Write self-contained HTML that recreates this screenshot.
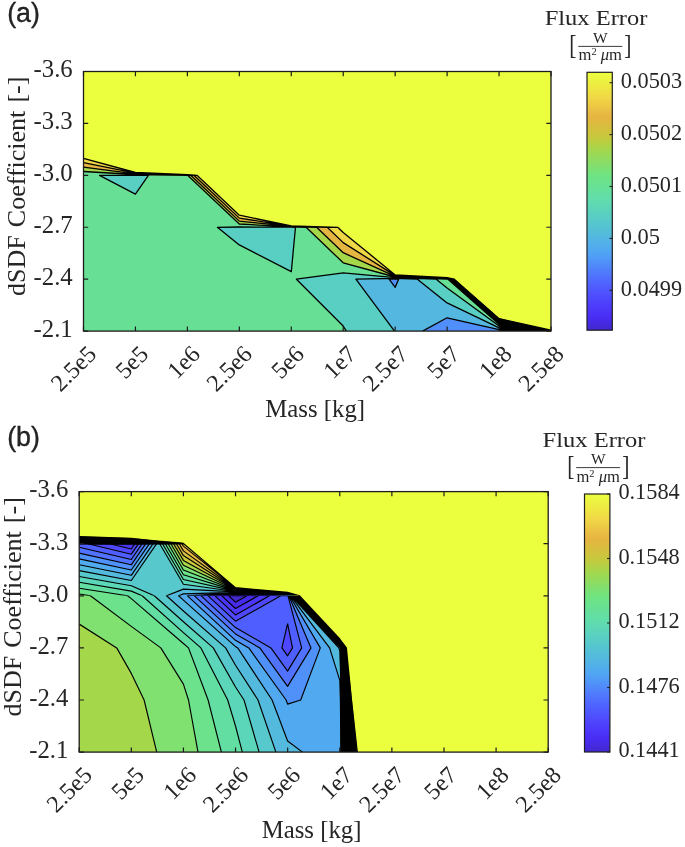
<!DOCTYPE html>
<html><head><meta charset="utf-8"><title>Flux Error contour plots</title>
<style>
html,body{margin:0;padding:0;background:#fff;}
svg{display:block;}
svg text{font-family:"Liberation Serif", serif;fill:#262626;}
</style></head>
<body>
<svg width="685" height="847" viewBox="0 0 685 847">
<defs><linearGradient id="pgrad" x1="0" y1="1" x2="0" y2="0"><stop offset="0.0000" stop-color="#4228cd"/><stop offset="0.0159" stop-color="#4429d9"/><stop offset="0.0317" stop-color="#462be5"/><stop offset="0.0476" stop-color="#482cf1"/><stop offset="0.0635" stop-color="#4a31f6"/><stop offset="0.0794" stop-color="#4c37f9"/><stop offset="0.0952" stop-color="#4d3cfc"/><stop offset="0.1111" stop-color="#4e43fd"/><stop offset="0.1270" stop-color="#4f4afe"/><stop offset="0.1429" stop-color="#4f52fe"/><stop offset="0.1587" stop-color="#4f59fe"/><stop offset="0.1746" stop-color="#4f60fe"/><stop offset="0.1905" stop-color="#5068ff"/><stop offset="0.2063" stop-color="#5070fe"/><stop offset="0.2222" stop-color="#5079fd"/><stop offset="0.2381" stop-color="#5082fb"/><stop offset="0.2540" stop-color="#508bfa"/><stop offset="0.2698" stop-color="#5094f8"/><stop offset="0.2857" stop-color="#509df6"/><stop offset="0.3016" stop-color="#50a5f4"/><stop offset="0.3175" stop-color="#51aaef"/><stop offset="0.3333" stop-color="#52afe9"/><stop offset="0.3492" stop-color="#52b4e4"/><stop offset="0.3651" stop-color="#53b9de"/><stop offset="0.3810" stop-color="#54bdd9"/><stop offset="0.3968" stop-color="#55c2d3"/><stop offset="0.4127" stop-color="#56c6ce"/><stop offset="0.4286" stop-color="#58cac8"/><stop offset="0.4444" stop-color="#59cec2"/><stop offset="0.4603" stop-color="#5bd2bd"/><stop offset="0.4762" stop-color="#5dd6b7"/><stop offset="0.4921" stop-color="#5edab2"/><stop offset="0.5079" stop-color="#60ddab"/><stop offset="0.5238" stop-color="#63dea4"/><stop offset="0.5397" stop-color="#65df9d"/><stop offset="0.5556" stop-color="#67e096"/><stop offset="0.5714" stop-color="#6ae28f"/><stop offset="0.5873" stop-color="#6ce388"/><stop offset="0.6032" stop-color="#70e480"/><stop offset="0.6190" stop-color="#78e278"/><stop offset="0.6349" stop-color="#81df6f"/><stop offset="0.6508" stop-color="#8add66"/><stop offset="0.6667" stop-color="#93db5d"/><stop offset="0.6825" stop-color="#9bd955"/><stop offset="0.6984" stop-color="#a4d74c"/><stop offset="0.7143" stop-color="#afd347"/><stop offset="0.7302" stop-color="#bace42"/><stop offset="0.7460" stop-color="#c5c93d"/><stop offset="0.7619" stop-color="#cdc53d"/><stop offset="0.7778" stop-color="#d3c13e"/><stop offset="0.7937" stop-color="#d9bd3f"/><stop offset="0.8095" stop-color="#e0b940"/><stop offset="0.8254" stop-color="#e6b542"/><stop offset="0.8413" stop-color="#e9ba43"/><stop offset="0.8571" stop-color="#ebc244"/><stop offset="0.8730" stop-color="#edca44"/><stop offset="0.8889" stop-color="#efd145"/><stop offset="0.9048" stop-color="#f0d946"/><stop offset="0.9206" stop-color="#efdf44"/><stop offset="0.9365" stop-color="#efe643"/><stop offset="0.9524" stop-color="#eeec42"/><stop offset="0.9683" stop-color="#edf241"/><stop offset="0.9841" stop-color="#edf93f"/><stop offset="1.0000" stop-color="#ecff3e"/></linearGradient><clipPath id="clipa"><rect x="83.5" y="71.5" width="467.5" height="259.6"/></clipPath><clipPath id="clipb"><rect x="79.2" y="491.6" width="469.0" height="260.5"/></clipPath><clipPath id="clipbt"><rect x="79.2" y="491.6" width="469.0" height="105.00"/></clipPath><clipPath id="clipbb"><rect x="79.2" y="595.80" width="469.0" height="156.30"/></clipPath></defs>
<rect width="685" height="847" fill="#fff"/>
<g>
<rect x="83.50" y="71.50" width="467.50" height="259.60" fill="#ecff3e"/>
<g clip-path="url(#clipa)">
<path d="M389.1 279.2L395.2 279.1L398.6 279.2L395.2 287.3L389.1 279.2ZM422.6 331.1L447.1 317.8L499.1 329.7L551.0 331.0L551.0 331.1L499.1 331.1L447.1 331.1L422.6 331.1Z" fill="#508ef9" fill-rule="evenodd" stroke="#508ef9" stroke-width="0.4"/><path d="M355.9 279.2L395.2 278.4L417.4 279.2L447.1 302.9L499.1 327.9L551.0 330.9L551.0 331.0L499.1 329.7L447.1 317.8L422.6 331.1L395.2 331.1L394.5 331.1L355.9 279.2ZM395.2 279.1L389.1 279.2L395.2 287.3L398.6 279.2L395.2 279.1Z" fill="#53b7e0" fill-rule="evenodd" stroke="#53b7e0" stroke-width="0.4"/><path d="M99.5 175.3L135.4 175.1L148.4 175.3L135.4 194.2L99.5 175.3ZM217.4 227.3L239.3 227.0L291.3 227.1L295.5 227.3L291.3 271.7L239.3 244.9L217.4 227.3ZM296.4 279.2L343.2 272.9L395.2 277.7L436.2 279.2L447.1 287.9L499.1 326.1L551.0 330.7L551.0 330.9L499.1 327.9L447.1 302.9L417.4 279.2L395.2 278.4L355.9 279.2L394.5 331.1L346.4 331.1L343.2 326.0L296.4 279.2Z" fill="#59cec3" fill-rule="evenodd" stroke="#59cec3" stroke-width="0.4"/><path d="M83.5 175.3L83.5 171.5L135.4 174.5L187.4 175.3L187.6 175.3L239.3 224.0L291.3 226.8L306.1 227.3L343.2 262.8L395.2 277.0L447.1 279.0L448.0 279.2L499.1 324.2L551.0 330.6L551.0 330.7L499.1 326.1L447.1 287.9L436.2 279.2L395.2 277.7L343.2 272.9L296.4 279.2L343.2 326.0L346.4 331.1L343.2 331.1L291.3 331.1L239.3 331.1L187.4 331.1L135.4 331.1L83.5 331.1L83.5 279.2L83.5 227.3L83.5 175.3ZM135.4 175.1L99.5 175.3L135.4 194.2L148.4 175.3L135.4 175.1ZM239.3 227.0L217.4 227.3L239.3 244.9L291.3 271.7L295.5 227.3L291.3 227.1L239.3 227.0Z" fill="#67e096" fill-rule="evenodd" stroke="#67e096" stroke-width="0.4"/><path d="M83.5 171.5L83.5 167.1L135.4 173.8L187.4 175.1L190.7 175.3L239.3 221.1L291.3 226.5L316.6 227.3L343.2 252.7L395.2 276.3L447.1 278.6L450.1 279.2L499.1 322.4L551.0 330.4L551.0 330.6L499.1 324.2L448.0 279.2L447.1 279.0L395.2 277.0L343.2 262.8L306.1 227.3L291.3 226.8L239.3 224.0L187.6 175.3L187.4 175.3L135.4 174.5L83.5 171.5Z" fill="#a5d74b" fill-rule="evenodd" stroke="#a5d74b" stroke-width="0.4"/><path d="M83.5 167.1L83.5 162.7L135.4 173.2L187.4 174.9L193.9 175.3L239.3 218.1L291.3 226.3L327.2 227.3L343.2 242.6L395.2 275.6L447.1 278.1L452.1 279.2L499.1 320.6L551.0 330.3L551.0 330.4L499.1 322.4L450.1 279.2L447.1 278.6L395.2 276.3L343.2 252.7L316.6 227.3L291.3 226.5L239.3 221.1L190.7 175.3L187.4 175.1L135.4 173.8L83.5 167.1Z" fill="#e4b641" fill-rule="evenodd" stroke="#e4b641" stroke-width="0.4"/><path d="M83.5 162.7L83.5 158.3L135.4 172.5L187.4 174.7L197.0 175.3L239.3 215.2L291.3 226.0L337.7 227.3L343.2 232.5L395.2 274.9L447.1 277.7L454.2 279.2L499.1 318.7L551.0 330.2L551.0 330.3L499.1 320.6L452.1 279.2L447.1 278.1L395.2 275.6L343.2 242.6L327.2 227.3L291.3 226.3L239.3 218.1L193.9 175.3L187.4 174.9L135.4 173.2L83.5 162.7Z" fill="#f0d746" fill-rule="evenodd" stroke="#f0d746" stroke-width="0.4"/><path d="M395.2 279.1L389.1 279.2L395.2 287.3L398.6 279.2L395.2 279.1M551.0 331.0L499.1 329.7L447.1 317.8L422.6 331.1M551.0 330.9L499.1 327.9L447.1 302.9L417.4 279.2L395.2 278.4L355.9 279.2L394.5 331.1M135.4 175.1L99.5 175.3L135.4 194.2L148.4 175.3L135.4 175.1M239.3 227.0L217.4 227.3L239.3 244.9L291.3 271.7L295.5 227.3L291.3 227.1L239.3 227.0M551.0 330.7L499.1 326.1L447.1 287.9L436.2 279.2L395.2 277.7L343.2 272.9L296.4 279.2L343.2 326.0L346.4 331.1M551.0 330.6L499.1 324.2L448.0 279.2L447.1 279.0L395.2 277.0L343.2 262.8L306.1 227.3L291.3 226.8L239.3 224.0L187.6 175.3L187.4 175.3L135.4 174.5L83.5 171.5M551.0 330.4L499.1 322.4L450.1 279.2L447.1 278.6L395.2 276.3L343.2 252.7L316.6 227.3L291.3 226.5L239.3 221.1L190.7 175.3L187.4 175.1L135.4 173.8L83.5 167.1M551.0 330.3L499.1 320.6L452.1 279.2L447.1 278.1L395.2 275.6L343.2 242.6L327.2 227.3L291.3 226.3L239.3 218.1L193.9 175.3L187.4 174.9L135.4 173.2L83.5 162.7M551.0 330.2L499.1 318.7L454.2 279.2L447.1 277.7L395.2 274.9L343.2 232.5L337.7 227.3L291.3 226.0L239.3 215.2L197.0 175.3L187.4 174.7L135.4 172.5L83.5 158.3" fill="none" stroke="#000" stroke-width="1.3" stroke-linejoin="round"/>
<path d="M449.5 279.1L454.2 279.1L499.1 318.7L551.0 331.1L499.1 331.1L499.1 324.2Z" fill="#000" stroke="#000" stroke-width="0.6"/>
</g>
<rect x="83.50" y="71.50" width="467.50" height="259.60" fill="none" stroke="#1c1c1c" stroke-width="1.3"/>
<path d="M83.50 331.10v-4.7M83.50 71.50v4.7" stroke="#1c1c1c" stroke-width="1.2" fill="none"/>
<path d="M135.44 331.10v-4.7M135.44 71.50v4.7" stroke="#1c1c1c" stroke-width="1.2" fill="none"/>
<path d="M187.39 331.10v-4.7M187.39 71.50v4.7" stroke="#1c1c1c" stroke-width="1.2" fill="none"/>
<path d="M239.33 331.10v-4.7M239.33 71.50v4.7" stroke="#1c1c1c" stroke-width="1.2" fill="none"/>
<path d="M291.28 331.10v-4.7M291.28 71.50v4.7" stroke="#1c1c1c" stroke-width="1.2" fill="none"/>
<path d="M343.22 331.10v-4.7M343.22 71.50v4.7" stroke="#1c1c1c" stroke-width="1.2" fill="none"/>
<path d="M395.17 331.10v-4.7M395.17 71.50v4.7" stroke="#1c1c1c" stroke-width="1.2" fill="none"/>
<path d="M447.11 331.10v-4.7M447.11 71.50v4.7" stroke="#1c1c1c" stroke-width="1.2" fill="none"/>
<path d="M499.06 331.10v-4.7M499.06 71.50v4.7" stroke="#1c1c1c" stroke-width="1.2" fill="none"/>
<path d="M551.00 331.10v-4.7M551.00 71.50v4.7" stroke="#1c1c1c" stroke-width="1.2" fill="none"/>
<path d="M83.50 71.50h4.7M551.00 71.50h-4.7" stroke="#1c1c1c" stroke-width="1.2" fill="none"/>
<path d="M83.50 123.42h4.7M551.00 123.42h-4.7" stroke="#1c1c1c" stroke-width="1.2" fill="none"/>
<path d="M83.50 175.34h4.7M551.00 175.34h-4.7" stroke="#1c1c1c" stroke-width="1.2" fill="none"/>
<path d="M83.50 227.26h4.7M551.00 227.26h-4.7" stroke="#1c1c1c" stroke-width="1.2" fill="none"/>
<path d="M83.50 279.18h4.7M551.00 279.18h-4.7" stroke="#1c1c1c" stroke-width="1.2" fill="none"/>
<path d="M83.50 331.10h4.7M551.00 331.10h-4.7" stroke="#1c1c1c" stroke-width="1.2" fill="none"/>
<text x="72.70" y="77.30" text-anchor="end" font-size="25" textLength="39.2" lengthAdjust="spacingAndGlyphs">-3.6</text>
<text x="72.70" y="129.22" text-anchor="end" font-size="25" textLength="39.2" lengthAdjust="spacingAndGlyphs">-3.3</text>
<text x="72.70" y="181.14" text-anchor="end" font-size="25" textLength="39.2" lengthAdjust="spacingAndGlyphs">-3.0</text>
<text x="72.70" y="233.06" text-anchor="end" font-size="25" textLength="39.2" lengthAdjust="spacingAndGlyphs">-2.7</text>
<text x="72.70" y="284.98" text-anchor="end" font-size="25" textLength="39.2" lengthAdjust="spacingAndGlyphs">-2.4</text>
<text x="72.70" y="336.90" text-anchor="end" font-size="25" textLength="39.2" lengthAdjust="spacingAndGlyphs">-2.1</text>
<text transform="translate(97.70 355.60) rotate(-45)" text-anchor="end" font-size="24">2.5e5</text>
<text transform="translate(149.64 355.60) rotate(-45)" text-anchor="end" font-size="24">5e5</text>
<text transform="translate(201.59 355.60) rotate(-45)" text-anchor="end" font-size="24">1e6</text>
<text transform="translate(253.53 355.60) rotate(-45)" text-anchor="end" font-size="24">2.5e6</text>
<text transform="translate(305.48 355.60) rotate(-45)" text-anchor="end" font-size="24">5e6</text>
<text transform="translate(357.42 355.60) rotate(-45)" text-anchor="end" font-size="24">1e7</text>
<text transform="translate(409.37 355.60) rotate(-45)" text-anchor="end" font-size="24">2.5e7</text>
<text transform="translate(461.31 355.60) rotate(-45)" text-anchor="end" font-size="24">5e7</text>
<text transform="translate(513.26 355.60) rotate(-45)" text-anchor="end" font-size="24">1e8</text>
<text transform="translate(565.20 355.60) rotate(-45)" text-anchor="end" font-size="24">2.5e8</text>
<text x="315.15" y="417.10" text-anchor="middle" font-size="24.5" textLength="99.8" lengthAdjust="spacingAndGlyphs">Mass [kg]</text>
<text transform="translate(25.30 186.30) rotate(-90)" text-anchor="middle" font-size="26" word-spacing="1.6">dSDF Coefficient [-]</text>
<text x="7.2" y="21.8" style='font-family:"Liberation Sans", sans-serif' font-size="26.8" fill="#000" stroke="#000" stroke-width="0.3">(a)</text>
<rect x="587.00" y="72.30" width="25.30" height="257.90" fill="url(#pgrad)" stroke="#202020" stroke-width="1.2"/>
<path d="M612.30 82.70h-2.8" stroke="#202020" stroke-width="1.1"/>
<text x="620.80" y="88.00" font-size="24" textLength="61.3" lengthAdjust="spacingAndGlyphs">0.0503</text>
<path d="M612.30 134.60h-2.8" stroke="#202020" stroke-width="1.1"/>
<text x="620.80" y="139.90" font-size="24" textLength="61.3" lengthAdjust="spacingAndGlyphs">0.0502</text>
<path d="M612.30 186.50h-2.8" stroke="#202020" stroke-width="1.1"/>
<text x="620.80" y="191.80" font-size="24" textLength="61.3" lengthAdjust="spacingAndGlyphs">0.0501</text>
<path d="M612.30 238.40h-2.8" stroke="#202020" stroke-width="1.1"/>
<text x="620.80" y="243.70" font-size="24" textLength="39.2" lengthAdjust="spacingAndGlyphs">0.05</text>
<path d="M612.30 290.30h-2.8" stroke="#202020" stroke-width="1.1"/>
<text x="620.80" y="295.60" font-size="24" textLength="61.3" lengthAdjust="spacingAndGlyphs">0.0499</text>
<text x="596.05" y="25.40" text-anchor="middle" font-size="22" textLength="102.8" lengthAdjust="spacingAndGlyphs">Flux Error</text>
<text transform="translate(572.85 53.60) scale(0.8 1)" text-anchor="middle" font-size="27">[</text>
<text transform="translate(627.95 53.60) scale(0.8 1)" text-anchor="middle" font-size="27">]</text>
<text x="600.25" y="42.70" text-anchor="middle" font-size="15.5">W</text>
<path d="M578.25 46.40h44" stroke="#262626" stroke-width="0.9"/>
<text x="600.25" y="60.40" text-anchor="middle" font-size="16" textLength="43.5" lengthAdjust="spacingAndGlyphs">m<tspan font-size="10" dy="-5">2</tspan><tspan dy="5" font-size="16"> </tspan><tspan font-style="italic">μ</tspan>m</text>
</g>
<g>
<rect x="79.20" y="491.60" width="469.00" height="260.50" fill="#ecff3e"/>
<g clip-path="url(#clipb)">
<g clip-path="url(#clipbt)"><path d="M228.7 595.8L235.5 595.4L246.9 595.8L235.5 602.2L228.7 595.8Z" fill="#4228cd" fill-rule="evenodd" stroke="#4228cd" stroke-width="0.4"/><path d="M131.3 543.7L131.3 543.7L131.3 543.7L131.3 543.7L131.3 543.7ZM221.8 595.8L235.5 594.9L258.2 595.8L235.5 608.5L221.8 595.8ZM235.5 595.4L228.7 595.8L235.5 602.2L246.9 595.8L235.5 595.4Z" fill="#472beb" fill-rule="evenodd" stroke="#472beb" stroke-width="0.4"/><path d="M109.6 543.7L131.3 543.4L134.9 543.7L131.3 549.0L109.6 543.7ZM131.3 543.7L131.3 543.7L131.3 543.7L131.3 543.7L131.3 543.7ZM215.0 595.8L235.5 594.5L269.5 595.8L235.5 614.9L215.0 595.8ZM235.5 594.9L221.8 595.8L235.5 608.5L258.2 595.8L235.5 594.9Z" fill="#4c37f9" fill-rule="evenodd" stroke="#4c37f9" stroke-width="0.4"/><path d="M87.9 543.7L131.3 543.1L138.6 543.7L131.3 554.2L87.9 543.7ZM131.3 543.4L109.6 543.7L131.3 549.0L134.9 543.7L131.3 543.4ZM208.1 595.8L235.5 594.1L280.8 595.8L235.5 621.2L208.1 595.8ZM235.5 594.5L215.0 595.8L235.5 614.9L269.5 595.8L235.5 594.5ZM281.9 647.9L287.6 623.7L292.5 647.9L287.6 655.8L281.9 647.9Z" fill="#4e47fd" fill-rule="evenodd" stroke="#4e47fd" stroke-width="0.4"/><path d="M79.2 543.7L79.2 543.4L131.3 542.7L142.2 543.7L131.3 559.5L79.2 547.2L79.2 543.7ZM131.3 543.1L87.9 543.7L131.3 554.2L138.6 543.7L131.3 543.1ZM201.2 595.8L235.5 593.6L287.6 595.7L288.0 595.8L301.7 647.9L287.6 671.1L270.9 647.9L235.5 627.6L201.2 595.8ZM235.5 594.1L208.1 595.8L235.5 621.2L280.8 595.8L235.5 594.1ZM287.6 623.7L281.9 647.9L287.6 655.8L292.5 647.9L287.6 623.7Z" fill="#4f5efe" fill-rule="evenodd" stroke="#4f5efe" stroke-width="0.4"/><path d="M79.2 543.4L79.2 542.9L131.3 542.4L145.8 543.7L131.3 564.8L79.2 553.1L79.2 547.2L131.3 559.5L142.2 543.7L131.3 542.7L79.2 543.4ZM194.4 595.8L235.5 593.2L287.6 595.5L288.8 595.8L311.0 647.9L287.6 686.4L259.8 647.9L235.5 633.9L194.4 595.8ZM235.5 593.6L201.2 595.8L235.5 627.6L270.9 647.9L287.6 671.1L301.7 647.9L288.0 595.8L287.6 595.7L235.5 593.6Z" fill="#5072fe" fill-rule="evenodd" stroke="#5072fe" stroke-width="0.4"/><path d="M79.2 542.9L79.2 542.4L131.3 542.1L149.5 543.7L131.3 570.0L79.2 558.9L79.2 553.1L131.3 564.8L145.8 543.7L131.3 542.4L79.2 542.9ZM187.5 595.8L235.5 592.8L287.6 595.2L289.6 595.8L320.3 647.9L300.7 700.0L287.6 704.1L286.1 700.0L248.8 647.9L235.5 640.3L187.5 595.8ZM235.5 593.2L194.4 595.8L235.5 633.9L259.8 647.9L287.6 686.4L311.0 647.9L288.8 595.8L287.6 595.5L235.5 593.2Z" fill="#5090f9" fill-rule="evenodd" stroke="#5090f9" stroke-width="0.4"/><path d="M79.2 542.4L79.2 542.0L131.3 541.8L153.1 543.7L131.3 575.3L79.2 564.8L79.2 558.9L131.3 570.0L149.5 543.7L131.3 542.1L79.2 542.4ZM178.6 595.8L183.4 593.9L235.5 592.4L287.6 595.0L290.5 595.8L329.6 647.9L339.8 680.3L340.4 700.0L340.9 752.1L339.8 752.1L302.5 752.1L287.6 741.0L272.1 700.0L237.7 647.9L235.5 646.6L183.4 600.1L178.6 595.8ZM235.5 592.8L187.5 595.8L235.5 640.3L248.8 647.9L286.1 700.0L287.6 704.1L300.7 700.0L320.3 647.9L289.6 595.8L287.6 595.2L235.5 592.8Z" fill="#51aaef" fill-rule="evenodd" stroke="#51aaef" stroke-width="0.4"/><path d="M79.2 542.0L79.2 541.5L131.3 541.5L156.7 543.7L131.3 580.5L79.2 570.6L79.2 564.8L131.3 575.3L153.1 543.7L131.3 541.8L79.2 542.0ZM166.5 595.8L183.4 589.1L235.5 591.9L287.6 594.8L291.3 595.8L338.8 647.9L339.8 650.8L341.4 700.0L342.4 752.1L340.9 752.1L340.4 700.0L339.8 680.3L329.6 647.9L290.5 595.8L287.6 595.0L235.5 592.4L183.4 593.9L178.6 595.8L183.4 600.1L235.5 646.6L237.7 647.9L272.1 700.0L287.6 741.0L302.5 752.1L287.6 752.1L275.9 752.1L258.0 700.0L235.5 665.3L225.6 647.9L183.4 611.0L166.5 595.8Z" fill="#53b9dd" fill-rule="evenodd" stroke="#53b9dd" stroke-width="0.4"/><path d="M79.2 541.5L79.2 541.0L131.3 541.2L157.4 543.5L159.7 543.7L183.4 584.3L235.5 591.5L287.6 594.5L292.1 595.8L339.8 647.1L340.4 647.9L342.4 700.0L343.9 752.1L342.4 752.1L341.4 700.0L339.8 650.8L338.8 647.9L291.3 595.8L287.6 594.8L235.5 591.9L183.4 589.1L166.5 595.8L183.4 611.0L225.6 647.9L235.5 665.3L258.0 700.0L275.9 752.1L259.1 752.1L244.0 700.0L235.5 687.0L213.3 647.9L183.4 621.8L157.4 599.7L154.3 595.8L131.3 585.8L79.2 576.5L79.2 570.6L131.3 580.5L156.7 543.7L131.3 541.5L79.2 541.5Z" fill="#57c8cb" fill-rule="evenodd" stroke="#57c8cb" stroke-width="0.4"/><path d="M79.2 541.0L79.2 540.5L131.3 540.8L157.4 543.3L162.5 543.7L183.4 579.5L235.5 591.1L287.6 594.3L293.0 595.8L339.8 646.2L341.0 647.9L343.5 700.0L345.3 752.1L343.9 752.1L342.4 700.0L340.4 647.9L339.8 647.1L292.1 595.8L287.6 594.5L235.5 591.5L183.4 584.3L159.7 543.7L157.4 543.5L131.3 541.2L79.2 541.0ZM79.2 582.3L79.2 576.5L131.3 585.8L154.3 595.8L157.4 599.7L183.4 621.8L213.3 647.9L235.5 687.0L244.0 700.0L259.1 752.1L242.3 752.1L235.5 726.0L227.7 700.0L200.9 647.9L183.4 632.6L157.4 615.3L142.2 595.8L131.3 591.1L79.2 582.3Z" fill="#5cd6b8" fill-rule="evenodd" stroke="#5cd6b8" stroke-width="0.4"/><path d="M79.2 540.5L79.2 540.0L131.3 540.5L157.4 543.0L165.3 543.7L183.4 574.8L235.5 590.6L287.6 594.1L293.8 595.8L339.8 645.3L341.7 647.9L344.5 700.0L346.8 752.1L345.3 752.1L343.5 700.0L341.0 647.9L339.8 646.2L293.0 595.8L287.6 594.3L235.5 591.1L183.4 579.5L162.5 543.7L157.4 543.3L131.3 540.8L79.2 540.5ZM79.2 588.2L79.2 582.3L131.3 591.1L142.2 595.8L157.4 615.3L183.4 632.6L200.9 647.9L227.7 700.0L235.5 726.0L242.3 752.1L235.5 752.1L221.4 752.1L208.1 700.0L188.5 647.9L183.4 643.5L157.4 630.9L131.3 598.6L127.6 595.8L79.2 588.2Z" fill="#63dea3" fill-rule="evenodd" stroke="#63dea3" stroke-width="0.4"/><path d="M79.2 540.0L79.2 539.5L131.3 540.2L157.4 542.8L168.1 543.7L183.4 570.0L235.5 590.2L287.6 593.8L294.6 595.8L339.8 644.4L342.4 647.9L345.5 700.0L348.3 752.1L346.8 752.1L344.5 700.0L341.7 647.9L339.8 645.3L293.8 595.8L287.6 594.1L235.5 590.6L183.4 574.8L165.3 543.7L157.4 543.0L131.3 540.5L79.2 540.0ZM79.2 594.0L79.2 588.2L127.6 595.8L131.3 598.6L157.4 630.9L183.4 643.5L188.5 647.9L208.1 700.0L221.4 752.1L198.0 752.1L188.5 700.0L183.4 684.1L160.8 647.9L157.4 646.5L131.3 626.4L90.4 595.8L79.2 594.0Z" fill="#6be28b" fill-rule="evenodd" stroke="#6be28b" stroke-width="0.4"/><path d="M79.2 539.5L79.2 539.0L131.3 539.9L157.4 542.6L170.9 543.7L183.4 565.2L235.5 589.8L287.6 593.6L295.5 595.8L339.8 643.5L343.0 647.9L346.5 700.0L349.8 752.1L348.3 752.1L345.5 700.0L342.4 647.9L339.8 644.4L294.6 595.8L287.6 593.8L235.5 590.2L183.4 570.0L168.1 543.7L157.4 542.8L131.3 540.2L79.2 539.5ZM79.2 595.8L79.2 594.0L90.4 595.8L131.3 626.4L157.4 646.5L160.8 647.9L183.4 684.1L188.5 700.0L198.0 752.1L183.4 752.1L157.4 752.1L156.7 752.1L144.1 700.0L131.3 673.4L116.7 647.9L79.2 624.1L79.2 595.8Z" fill="#80e070" fill-rule="evenodd" stroke="#80e070" stroke-width="0.4"/><path d="M79.2 539.0L79.2 538.6L131.3 539.6L157.4 542.3L173.6 543.7L183.4 560.4L235.5 589.3L287.6 593.4L296.3 595.8L339.8 642.6L343.7 647.9L347.5 700.0L351.3 752.1L349.8 752.1L346.5 700.0L343.0 647.9L339.8 643.5L295.5 595.8L287.6 593.6L235.5 589.8L183.4 565.2L170.9 543.7L157.4 542.6L131.3 539.9L79.2 539.0ZM79.2 647.9L79.2 624.1L116.7 647.9L131.3 673.4L144.1 700.0L156.7 752.1L131.3 752.1L79.2 752.1L79.2 700.0L79.2 647.9Z" fill="#a5d74b" fill-rule="evenodd" stroke="#a5d74b" stroke-width="0.4"/><path d="M79.2 538.6L79.2 538.1L131.3 539.3L157.4 542.1L176.4 543.7L183.4 555.6L235.5 588.9L287.6 593.1L297.1 595.8L339.8 641.7L344.4 647.9L348.5 700.0L352.8 752.1L351.3 752.1L347.5 700.0L343.7 647.9L339.8 642.6L296.3 595.8L287.6 593.4L235.5 589.3L183.4 560.4L173.6 543.7L157.4 542.3L131.3 539.6L79.2 538.6Z" fill="#c8c83c" fill-rule="evenodd" stroke="#c8c83c" stroke-width="0.4"/><path d="M79.2 538.1L79.2 537.6L131.3 538.9L157.4 541.9L179.2 543.7L183.4 550.9L235.5 588.5L287.6 592.9L298.0 595.8L339.8 640.8L345.0 647.9L349.5 700.0L354.3 752.1L352.8 752.1L348.5 700.0L344.4 647.9L339.8 641.7L297.1 595.8L287.6 593.1L235.5 588.9L183.4 555.6L176.4 543.7L157.4 542.1L131.3 539.3L79.2 538.1Z" fill="#d8be3f" fill-rule="evenodd" stroke="#d8be3f" stroke-width="0.4"/><path d="M79.2 537.6L79.2 537.1L131.3 538.6L157.4 541.6L182.0 543.7L183.4 546.1L235.5 588.0L287.6 592.6L298.8 595.8L339.8 639.9L345.7 647.9L350.5 700.0L355.8 752.1L354.3 752.1L349.5 700.0L345.0 647.9L339.8 640.8L298.0 595.8L287.6 592.9L235.5 588.5L183.4 550.9L179.2 543.7L157.4 541.9L131.3 538.9L79.2 537.6Z" fill="#e9ba43" fill-rule="evenodd" stroke="#e9ba43" stroke-width="0.4"/><path d="M79.2 537.1L79.2 536.6L131.3 538.3L157.4 541.4L183.4 543.6L183.7 543.7L235.5 587.6L287.6 592.4L299.6 595.8L339.8 639.0L346.4 647.9L351.5 700.0L357.3 752.1L355.8 752.1L350.5 700.0L345.7 647.9L339.8 639.9L298.8 595.8L287.6 592.6L235.5 588.0L183.4 546.1L182.0 543.7L157.4 541.6L131.3 538.6L79.2 537.1Z" fill="#efd446" fill-rule="evenodd" stroke="#efd446" stroke-width="0.4"/><path d="M235.5 595.8L235.5 595.8L235.5 595.8L235.5 595.8L235.5 595.8M235.5 595.4L228.7 595.8L235.5 602.2L246.9 595.8L235.5 595.4M131.3 543.7L131.3 543.7L131.3 543.7L131.3 543.7L131.3 543.7M235.5 594.9L221.8 595.8L235.5 608.5L258.2 595.8L235.5 594.9M131.3 543.4L109.6 543.7L131.3 549.0L134.9 543.7L131.3 543.4M235.5 594.5L215.0 595.8L235.5 614.9L269.5 595.8L235.5 594.5M131.3 543.1L87.9 543.7L131.3 554.2L138.6 543.7L131.3 543.1M235.5 594.1L208.1 595.8L235.5 621.2L280.8 595.8L235.5 594.1M287.6 623.7L281.9 647.9L287.6 655.8L292.5 647.9L287.6 623.7M79.2 547.2L131.3 559.5L142.2 543.7L131.3 542.7L79.2 543.4M235.5 593.6L201.2 595.8L235.5 627.6L270.9 647.9L287.6 671.1L301.7 647.9L288.0 595.8L287.6 595.7L235.5 593.6M79.2 553.1L131.3 564.8L145.8 543.7L131.3 542.4L79.2 542.9M235.5 593.2L194.4 595.8L235.5 633.9L259.8 647.9L287.6 686.4L311.0 647.9L288.8 595.8L287.6 595.5L235.5 593.2M79.2 558.9L131.3 570.0L149.5 543.7L131.3 542.1L79.2 542.4M235.5 592.8L187.5 595.8L235.5 640.3L248.8 647.9L286.1 700.0L287.6 704.1L300.7 700.0L320.3 647.9L289.6 595.8L287.6 595.2L235.5 592.8M79.2 564.8L131.3 575.3L153.1 543.7L131.3 541.8L79.2 542.0M340.9 752.1L340.4 700.0L339.8 680.3L329.6 647.9L290.5 595.8L287.6 595.0L235.5 592.4L183.4 593.9L178.6 595.8L183.4 600.1L235.5 646.6L237.7 647.9L272.1 700.0L287.6 741.0L302.5 752.1M79.2 570.6L131.3 580.5L156.7 543.7L131.3 541.5L79.2 541.5M342.4 752.1L341.4 700.0L339.8 650.8L338.8 647.9L291.3 595.8L287.6 594.8L235.5 591.9L183.4 589.1L166.5 595.8L183.4 611.0L225.6 647.9L235.5 665.3L258.0 700.0L275.9 752.1M79.2 576.5L131.3 585.8L154.3 595.8L157.4 599.7L183.4 621.8L213.3 647.9L235.5 687.0L244.0 700.0L259.1 752.1M343.9 752.1L342.4 700.0L340.4 647.9L339.8 647.1L292.1 595.8L287.6 594.5L235.5 591.5L183.4 584.3L159.7 543.7L157.4 543.5L131.3 541.2L79.2 541.0M79.2 582.3L131.3 591.1L142.2 595.8L157.4 615.3L183.4 632.6L200.9 647.9L227.7 700.0L235.5 726.0L242.3 752.1M345.3 752.1L343.5 700.0L341.0 647.9L339.8 646.2L293.0 595.8L287.6 594.3L235.5 591.1L183.4 579.5L162.5 543.7L157.4 543.3L131.3 540.8L79.2 540.5M79.2 588.2L127.6 595.8L131.3 598.6L157.4 630.9L183.4 643.5L188.5 647.9L208.1 700.0L221.4 752.1M346.8 752.1L344.5 700.0L341.7 647.9L339.8 645.3L293.8 595.8L287.6 594.1L235.5 590.6L183.4 574.8L165.3 543.7L157.4 543.0L131.3 540.5L79.2 540.0M79.2 594.0L90.4 595.8L131.3 626.4L157.4 646.5L160.8 647.9L183.4 684.1L188.5 700.0L198.0 752.1M348.3 752.1L345.5 700.0L342.4 647.9L339.8 644.4L294.6 595.8L287.6 593.8L235.5 590.2L183.4 570.0L168.1 543.7L157.4 542.8L131.3 540.2L79.2 539.5M79.2 624.1L116.7 647.9L131.3 673.4L144.1 700.0L156.7 752.1M349.8 752.1L346.5 700.0L343.0 647.9L339.8 643.5L295.5 595.8L287.6 593.6L235.5 589.8L183.4 565.2L170.9 543.7L157.4 542.6L131.3 539.9L79.2 539.0M351.3 752.1L347.5 700.0L343.7 647.9L339.8 642.6L296.3 595.8L287.6 593.4L235.5 589.3L183.4 560.4L173.6 543.7L157.4 542.3L131.3 539.6L79.2 538.6M352.8 752.1L348.5 700.0L344.4 647.9L339.8 641.7L297.1 595.8L287.6 593.1L235.5 588.9L183.4 555.6L176.4 543.7L157.4 542.1L131.3 539.3L79.2 538.1M354.3 752.1L349.5 700.0L345.0 647.9L339.8 640.8L298.0 595.8L287.6 592.9L235.5 588.5L183.4 550.9L179.2 543.7L157.4 541.9L131.3 538.9L79.2 537.6M355.8 752.1L350.5 700.0L345.7 647.9L339.8 639.9L298.8 595.8L287.6 592.6L235.5 588.0L183.4 546.1L182.0 543.7L157.4 541.6L131.3 538.6L79.2 537.1M357.3 752.1L351.5 700.0L346.4 647.9L339.8 639.0L299.6 595.8L287.6 592.4L235.5 587.6L183.7 543.7L183.4 543.6L157.4 541.4L131.3 538.3L79.2 536.6" fill="none" stroke="#000" stroke-width="1.15" stroke-linejoin="round"/></g>
<g clip-path="url(#clipbb)"><path d="M228.7 595.8L235.5 595.4L246.9 595.8L235.5 602.2L228.7 595.8Z" fill="#4228cd" fill-rule="evenodd" stroke="#4228cd" stroke-width="0.4"/><path d="M131.3 543.7L131.3 543.7L131.3 543.7L131.3 543.7L131.3 543.7ZM221.8 595.8L235.5 594.9L258.2 595.8L235.5 608.5L221.8 595.8ZM235.5 595.4L228.7 595.8L235.5 602.2L246.9 595.8L235.5 595.4Z" fill="#472beb" fill-rule="evenodd" stroke="#472beb" stroke-width="0.4"/><path d="M109.6 543.7L131.3 543.4L134.7 543.7L131.3 549.0L109.6 543.7ZM131.3 543.7L131.3 543.7L131.3 543.7L131.3 543.7L131.3 543.7ZM215.0 595.8L235.5 594.5L269.5 595.8L235.5 614.9L215.0 595.8ZM235.5 594.9L221.8 595.8L235.5 608.5L258.2 595.8L235.5 594.9Z" fill="#4c37f9" fill-rule="evenodd" stroke="#4c37f9" stroke-width="0.4"/><path d="M87.9 543.7L131.3 543.1L138.0 543.7L131.3 554.2L87.9 543.7ZM131.3 543.4L109.6 543.7L131.3 549.0L134.7 543.7L131.3 543.4ZM208.1 595.8L235.5 594.1L280.8 595.8L235.5 621.2L208.1 595.8ZM235.5 594.5L215.0 595.8L235.5 614.9L269.5 595.8L235.5 594.5ZM281.9 647.9L287.6 623.7L292.5 647.9L287.6 655.8L281.9 647.9Z" fill="#4e47fd" fill-rule="evenodd" stroke="#4e47fd" stroke-width="0.4"/><path d="M79.2 543.7L79.2 543.4L131.3 542.7L141.3 543.7L131.3 559.5L79.2 547.2L79.2 543.7ZM131.3 543.1L87.9 543.7L131.3 554.2L138.0 543.7L131.3 543.1ZM201.2 595.8L235.5 593.6L287.6 595.7L288.0 595.8L301.7 647.9L287.6 671.1L270.9 647.9L235.5 627.6L201.2 595.8ZM235.5 594.1L208.1 595.8L235.5 621.2L280.8 595.8L235.5 594.1ZM287.6 623.7L281.9 647.9L287.6 655.8L292.5 647.9L287.6 623.7Z" fill="#4f5efe" fill-rule="evenodd" stroke="#4f5efe" stroke-width="0.4"/><path d="M79.2 543.4L79.2 542.9L131.3 542.4L144.7 543.7L131.3 564.8L79.2 553.1L79.2 547.2L131.3 559.5L141.3 543.7L131.3 542.7L79.2 543.4ZM194.4 595.8L235.5 593.2L287.6 595.5L288.8 595.8L311.0 647.9L287.6 686.4L259.8 647.9L235.5 633.9L194.4 595.8ZM235.5 593.6L201.2 595.8L235.5 627.6L270.9 647.9L287.6 671.1L301.7 647.9L288.0 595.8L287.6 595.7L235.5 593.6Z" fill="#5072fe" fill-rule="evenodd" stroke="#5072fe" stroke-width="0.4"/><path d="M79.2 542.9L79.2 542.4L131.3 542.1L148.0 543.7L131.3 570.0L79.2 558.9L79.2 553.1L131.3 564.8L144.7 543.7L131.3 542.4L79.2 542.9ZM187.5 595.8L235.5 592.8L287.6 595.2L289.6 595.8L320.3 647.9L300.7 700.0L287.6 704.1L286.1 700.0L248.8 647.9L235.5 640.3L187.5 595.8ZM235.5 593.2L194.4 595.8L235.5 633.9L259.8 647.9L287.6 686.4L311.0 647.9L288.8 595.8L287.6 595.5L235.5 593.2Z" fill="#5090f9" fill-rule="evenodd" stroke="#5090f9" stroke-width="0.4"/><path d="M79.2 542.4L79.2 542.0L131.3 541.8L151.4 543.7L131.3 575.3L79.2 564.8L79.2 558.9L131.3 570.0L148.0 543.7L131.3 542.1L79.2 542.4ZM178.6 595.8L183.4 593.7L235.5 592.4L287.6 595.0L290.5 595.8L329.6 647.9L339.8 680.3L340.4 700.0L340.9 752.1L339.8 752.1L302.5 752.1L287.6 741.0L272.1 700.0L237.7 647.9L235.5 646.6L183.4 600.1L178.6 595.8ZM235.5 592.8L187.5 595.8L235.5 640.3L248.8 647.9L286.1 700.0L287.6 704.1L300.7 700.0L320.3 647.9L289.6 595.8L287.6 595.2L235.5 592.8Z" fill="#51aaef" fill-rule="evenodd" stroke="#51aaef" stroke-width="0.4"/><path d="M79.2 542.0L79.2 541.5L131.3 541.5L154.7 543.7L131.3 580.5L79.2 570.6L79.2 564.8L131.3 575.3L151.4 543.7L131.3 541.8L79.2 542.0ZM166.5 595.8L183.4 588.5L235.5 591.9L287.6 594.8L291.3 595.8L338.8 647.9L339.8 650.8L341.4 700.0L342.4 752.1L340.9 752.1L340.4 700.0L339.8 680.3L329.6 647.9L290.5 595.8L287.6 595.0L235.5 592.4L183.4 593.7L178.6 595.8L183.4 600.1L235.5 646.6L237.7 647.9L272.1 700.0L287.6 741.0L302.5 752.1L287.6 752.1L275.9 752.1L258.0 700.0L235.5 665.3L225.6 647.9L183.4 611.0L166.5 595.8Z" fill="#53b9dd" fill-rule="evenodd" stroke="#53b9dd" stroke-width="0.4"/><path d="M79.2 541.5L79.2 541.0L131.3 541.2L158.0 543.7L183.4 583.3L235.5 591.5L287.6 594.5L292.1 595.8L339.8 647.1L340.4 647.9L342.4 700.0L343.9 752.1L342.4 752.1L341.4 700.0L339.8 650.8L338.8 647.9L291.3 595.8L287.6 594.8L235.5 591.9L183.4 588.5L166.5 595.8L183.4 611.0L225.6 647.9L235.5 665.3L258.0 700.0L275.9 752.1L259.1 752.1L244.0 700.0L235.5 687.0L213.3 647.9L183.4 621.8L154.3 595.8L131.3 585.8L79.2 576.5L79.2 570.6L131.3 580.5L154.7 543.7L131.3 541.5L79.2 541.5Z" fill="#57c8cb" fill-rule="evenodd" stroke="#57c8cb" stroke-width="0.4"/><path d="M79.2 541.0L79.2 540.5L131.3 540.8L161.4 543.7L183.4 578.1L235.5 591.1L287.6 594.3L293.0 595.8L339.8 646.2L341.0 647.9L343.5 700.0L345.3 752.1L343.9 752.1L342.4 700.0L340.4 647.9L339.8 647.1L292.1 595.8L287.6 594.5L235.5 591.5L183.4 583.3L158.0 543.7L131.3 541.2L79.2 541.0ZM79.2 582.3L79.2 576.5L131.3 585.8L154.3 595.8L183.4 621.8L213.3 647.9L235.5 687.0L244.0 700.0L259.1 752.1L242.3 752.1L235.5 726.0L227.7 700.0L200.9 647.9L183.4 632.6L142.2 595.8L131.3 591.1L79.2 582.3Z" fill="#5cd6b8" fill-rule="evenodd" stroke="#5cd6b8" stroke-width="0.4"/><path d="M79.2 540.5L79.2 540.0L131.3 540.5L164.7 543.7L183.4 572.9L235.5 590.6L287.6 594.1L293.8 595.8L339.8 645.3L341.7 647.9L344.5 700.0L346.8 752.1L345.3 752.1L343.5 700.0L341.0 647.9L339.8 646.2L293.0 595.8L287.6 594.3L235.5 591.1L183.4 578.1L161.4 543.7L131.3 540.8L79.2 540.5ZM79.2 588.2L79.2 582.3L131.3 591.1L142.2 595.8L183.4 632.6L200.9 647.9L227.7 700.0L235.5 726.0L242.3 752.1L235.5 752.1L221.4 752.1L208.1 700.0L188.5 647.9L183.4 643.5L131.3 598.6L127.6 595.8L79.2 588.2Z" fill="#63dea3" fill-rule="evenodd" stroke="#63dea3" stroke-width="0.4"/><path d="M79.2 540.0L79.2 539.5L131.3 540.2L168.1 543.7L183.4 567.7L235.5 590.2L287.6 593.8L294.6 595.8L339.8 644.4L342.4 647.9L345.5 700.0L348.3 752.1L346.8 752.1L344.5 700.0L341.7 647.9L339.8 645.3L293.8 595.8L287.6 594.1L235.5 590.6L183.4 572.9L164.7 543.7L131.3 540.5L79.2 540.0ZM79.2 594.0L79.2 588.2L127.6 595.8L131.3 598.6L183.4 643.5L188.5 647.9L208.1 700.0L221.4 752.1L198.0 752.1L188.5 700.0L183.4 684.1L160.8 647.9L131.3 626.4L90.4 595.8L79.2 594.0Z" fill="#6be28b" fill-rule="evenodd" stroke="#6be28b" stroke-width="0.4"/><path d="M79.2 539.5L79.2 539.0L131.3 539.9L171.4 543.7L183.4 562.5L235.5 589.8L287.6 593.6L295.5 595.8L339.8 643.5L343.0 647.9L346.5 700.0L349.8 752.1L348.3 752.1L345.5 700.0L342.4 647.9L339.8 644.4L294.6 595.8L287.6 593.8L235.5 590.2L183.4 567.7L168.1 543.7L131.3 540.2L79.2 539.5ZM79.2 595.8L79.2 594.0L90.4 595.8L131.3 626.4L160.8 647.9L183.4 684.1L188.5 700.0L198.0 752.1L183.4 752.1L156.7 752.1L144.1 700.0L131.3 673.4L116.7 647.9L79.2 624.1L79.2 595.8Z" fill="#80e070" fill-rule="evenodd" stroke="#80e070" stroke-width="0.4"/><path d="M79.2 539.0L79.2 538.6L131.3 539.6L174.7 543.7L183.4 557.2L235.5 589.3L287.6 593.4L296.3 595.8L339.8 642.6L343.7 647.9L347.5 700.0L351.3 752.1L349.8 752.1L346.5 700.0L343.0 647.9L339.8 643.5L295.5 595.8L287.6 593.6L235.5 589.8L183.4 562.5L171.4 543.7L131.3 539.9L79.2 539.0ZM79.2 647.9L79.2 624.1L116.7 647.9L131.3 673.4L144.1 700.0L156.7 752.1L131.3 752.1L79.2 752.1L79.2 700.0L79.2 647.9Z" fill="#a5d74b" fill-rule="evenodd" stroke="#a5d74b" stroke-width="0.4"/><path d="M79.2 538.6L79.2 538.1L131.3 539.3L178.1 543.7L183.4 552.0L235.5 588.9L287.6 593.1L297.1 595.8L339.8 641.7L344.4 647.9L348.5 700.0L352.8 752.1L351.3 752.1L347.5 700.0L343.7 647.9L339.8 642.6L296.3 595.8L287.6 593.4L235.5 589.3L183.4 557.2L174.7 543.7L131.3 539.6L79.2 538.6Z" fill="#c8c83c" fill-rule="evenodd" stroke="#c8c83c" stroke-width="0.4"/><path d="M79.2 538.1L79.2 537.6L131.3 538.9L181.4 543.7L183.4 546.8L235.5 588.5L287.6 592.9L298.0 595.8L339.8 640.8L345.0 647.9L349.5 700.0L354.3 752.1L352.8 752.1L348.5 700.0L344.4 647.9L339.8 641.7L297.1 595.8L287.6 593.1L235.5 588.9L183.4 552.0L178.1 543.7L131.3 539.3L79.2 538.1Z" fill="#d8be3f" fill-rule="evenodd" stroke="#d8be3f" stroke-width="0.4"/><path d="M79.2 537.6L79.2 537.1L131.3 538.6L183.4 543.6L183.6 543.7L235.5 588.0L287.6 592.6L298.8 595.8L339.8 639.9L345.7 647.9L350.5 700.0L355.8 752.1L354.3 752.1L349.5 700.0L345.0 647.9L339.8 640.8L298.0 595.8L287.6 592.9L235.5 588.5L183.4 546.8L181.4 543.7L131.3 538.9L79.2 537.6Z" fill="#e9ba43" fill-rule="evenodd" stroke="#e9ba43" stroke-width="0.4"/><path d="M79.2 537.1L79.2 536.6L131.3 538.3L183.4 543.4L184.1 543.7L235.5 587.6L287.6 592.4L299.6 595.8L339.8 639.0L346.4 647.9L351.5 700.0L357.3 752.1L355.8 752.1L350.5 700.0L345.7 647.9L339.8 639.9L298.8 595.8L287.6 592.6L235.5 588.0L183.6 543.7L183.4 543.6L131.3 538.6L79.2 537.1Z" fill="#efd446" fill-rule="evenodd" stroke="#efd446" stroke-width="0.4"/><path d="M235.5 595.8L235.5 595.8L235.5 595.8L235.5 595.8L235.5 595.8M235.5 595.4L228.7 595.8L235.5 602.2L246.9 595.8L235.5 595.4M131.3 543.7L131.3 543.7L131.3 543.7L131.3 543.7L131.3 543.7M235.5 594.9L221.8 595.8L235.5 608.5L258.2 595.8L235.5 594.9M131.3 543.4L109.6 543.7L131.3 549.0L134.7 543.7L131.3 543.4M235.5 594.5L215.0 595.8L235.5 614.9L269.5 595.8L235.5 594.5M131.3 543.1L87.9 543.7L131.3 554.2L138.0 543.7L131.3 543.1M235.5 594.1L208.1 595.8L235.5 621.2L280.8 595.8L235.5 594.1M287.6 623.7L281.9 647.9L287.6 655.8L292.5 647.9L287.6 623.7M79.2 547.2L131.3 559.5L141.3 543.7L131.3 542.7L79.2 543.4M235.5 593.6L201.2 595.8L235.5 627.6L270.9 647.9L287.6 671.1L301.7 647.9L288.0 595.8L287.6 595.7L235.5 593.6M79.2 553.1L131.3 564.8L144.7 543.7L131.3 542.4L79.2 542.9M235.5 593.2L194.4 595.8L235.5 633.9L259.8 647.9L287.6 686.4L311.0 647.9L288.8 595.8L287.6 595.5L235.5 593.2M79.2 558.9L131.3 570.0L148.0 543.7L131.3 542.1L79.2 542.4M235.5 592.8L187.5 595.8L235.5 640.3L248.8 647.9L286.1 700.0L287.6 704.1L300.7 700.0L320.3 647.9L289.6 595.8L287.6 595.2L235.5 592.8M79.2 564.8L131.3 575.3L151.4 543.7L131.3 541.8L79.2 542.0M340.9 752.1L340.4 700.0L339.8 680.3L329.6 647.9L290.5 595.8L287.6 595.0L235.5 592.4L183.4 593.7L178.6 595.8L183.4 600.1L235.5 646.6L237.7 647.9L272.1 700.0L287.6 741.0L302.5 752.1M79.2 570.6L131.3 580.5L154.7 543.7L131.3 541.5L79.2 541.5M342.4 752.1L341.4 700.0L339.8 650.8L338.8 647.9L291.3 595.8L287.6 594.8L235.5 591.9L183.4 588.5L166.5 595.8L183.4 611.0L225.6 647.9L235.5 665.3L258.0 700.0L275.9 752.1M79.2 576.5L131.3 585.8L154.3 595.8L183.4 621.8L213.3 647.9L235.5 687.0L244.0 700.0L259.1 752.1M343.9 752.1L342.4 700.0L340.4 647.9L339.8 647.1L292.1 595.8L287.6 594.5L235.5 591.5L183.4 583.3L158.0 543.7L131.3 541.2L79.2 541.0M79.2 582.3L131.3 591.1L142.2 595.8L183.4 632.6L200.9 647.9L227.7 700.0L235.5 726.0L242.3 752.1M345.3 752.1L343.5 700.0L341.0 647.9L339.8 646.2L293.0 595.8L287.6 594.3L235.5 591.1L183.4 578.1L161.4 543.7L131.3 540.8L79.2 540.5M79.2 588.2L127.6 595.8L131.3 598.6L183.4 643.5L188.5 647.9L208.1 700.0L221.4 752.1M346.8 752.1L344.5 700.0L341.7 647.9L339.8 645.3L293.8 595.8L287.6 594.1L235.5 590.6L183.4 572.9L164.7 543.7L131.3 540.5L79.2 540.0M79.2 594.0L90.4 595.8L131.3 626.4L160.8 647.9L183.4 684.1L188.5 700.0L198.0 752.1M348.3 752.1L345.5 700.0L342.4 647.9L339.8 644.4L294.6 595.8L287.6 593.8L235.5 590.2L183.4 567.7L168.1 543.7L131.3 540.2L79.2 539.5M79.2 624.1L116.7 647.9L131.3 673.4L144.1 700.0L156.7 752.1M349.8 752.1L346.5 700.0L343.0 647.9L339.8 643.5L295.5 595.8L287.6 593.6L235.5 589.8L183.4 562.5L171.4 543.7L131.3 539.9L79.2 539.0M351.3 752.1L347.5 700.0L343.7 647.9L339.8 642.6L296.3 595.8L287.6 593.4L235.5 589.3L183.4 557.2L174.7 543.7L131.3 539.6L79.2 538.6M352.8 752.1L348.5 700.0L344.4 647.9L339.8 641.7L297.1 595.8L287.6 593.1L235.5 588.9L183.4 552.0L178.1 543.7L131.3 539.3L79.2 538.1M354.3 752.1L349.5 700.0L345.0 647.9L339.8 640.8L298.0 595.8L287.6 592.9L235.5 588.5L183.4 546.8L181.4 543.7L131.3 538.9L79.2 537.6M355.8 752.1L350.5 700.0L345.7 647.9L339.8 639.9L298.8 595.8L287.6 592.6L235.5 588.0L183.6 543.7L183.4 543.6L131.3 538.6L79.2 537.1M357.3 752.1L351.5 700.0L346.4 647.9L339.8 639.0L299.6 595.8L287.6 592.4L235.5 587.6L184.1 543.7L183.4 543.4L131.3 538.3L79.2 536.6" fill="none" stroke="#000" stroke-width="1.15" stroke-linejoin="round"/></g>
<path d="M340.9 676.0L349.0 676.0L351.5 700.0L356.9 752.0L340.9 752.0Z" fill="#000" stroke="#000" stroke-width="0.6"/>
<path d="M79.2 536.8L131.3 538.6L183.4 543.0L183.4 543.9L131.3 544.6L79.2 544.3Z" fill="#000" stroke="#000" stroke-width="0.6"/>
</g>
<rect x="79.20" y="491.60" width="469.00" height="260.50" fill="none" stroke="#1c1c1c" stroke-width="1.3"/>
<path d="M79.20 752.10v-4.7M79.20 491.60v4.7" stroke="#1c1c1c" stroke-width="1.2" fill="none"/>
<path d="M131.31 752.10v-4.7M131.31 491.60v4.7" stroke="#1c1c1c" stroke-width="1.2" fill="none"/>
<path d="M183.42 752.10v-4.7M183.42 491.60v4.7" stroke="#1c1c1c" stroke-width="1.2" fill="none"/>
<path d="M235.53 752.10v-4.7M235.53 491.60v4.7" stroke="#1c1c1c" stroke-width="1.2" fill="none"/>
<path d="M287.64 752.10v-4.7M287.64 491.60v4.7" stroke="#1c1c1c" stroke-width="1.2" fill="none"/>
<path d="M339.76 752.10v-4.7M339.76 491.60v4.7" stroke="#1c1c1c" stroke-width="1.2" fill="none"/>
<path d="M391.87 752.10v-4.7M391.87 491.60v4.7" stroke="#1c1c1c" stroke-width="1.2" fill="none"/>
<path d="M443.98 752.10v-4.7M443.98 491.60v4.7" stroke="#1c1c1c" stroke-width="1.2" fill="none"/>
<path d="M496.09 752.10v-4.7M496.09 491.60v4.7" stroke="#1c1c1c" stroke-width="1.2" fill="none"/>
<path d="M548.20 752.10v-4.7M548.20 491.60v4.7" stroke="#1c1c1c" stroke-width="1.2" fill="none"/>
<path d="M79.20 491.60h4.7M548.20 491.60h-4.7" stroke="#1c1c1c" stroke-width="1.2" fill="none"/>
<path d="M79.20 543.70h4.7M548.20 543.70h-4.7" stroke="#1c1c1c" stroke-width="1.2" fill="none"/>
<path d="M79.20 595.80h4.7M548.20 595.80h-4.7" stroke="#1c1c1c" stroke-width="1.2" fill="none"/>
<path d="M79.20 647.90h4.7M548.20 647.90h-4.7" stroke="#1c1c1c" stroke-width="1.2" fill="none"/>
<path d="M79.20 700.00h4.7M548.20 700.00h-4.7" stroke="#1c1c1c" stroke-width="1.2" fill="none"/>
<path d="M79.20 752.10h4.7M548.20 752.10h-4.7" stroke="#1c1c1c" stroke-width="1.2" fill="none"/>
<text x="68.40" y="497.40" text-anchor="end" font-size="25" textLength="39.2" lengthAdjust="spacingAndGlyphs">-3.6</text>
<text x="68.40" y="549.50" text-anchor="end" font-size="25" textLength="39.2" lengthAdjust="spacingAndGlyphs">-3.3</text>
<text x="68.40" y="601.60" text-anchor="end" font-size="25" textLength="39.2" lengthAdjust="spacingAndGlyphs">-3.0</text>
<text x="68.40" y="653.70" text-anchor="end" font-size="25" textLength="39.2" lengthAdjust="spacingAndGlyphs">-2.7</text>
<text x="68.40" y="705.80" text-anchor="end" font-size="25" textLength="39.2" lengthAdjust="spacingAndGlyphs">-2.4</text>
<text x="68.40" y="757.90" text-anchor="end" font-size="25" textLength="39.2" lengthAdjust="spacingAndGlyphs">-2.1</text>
<text transform="translate(93.40 776.60) rotate(-45)" text-anchor="end" font-size="24">2.5e5</text>
<text transform="translate(145.51 776.60) rotate(-45)" text-anchor="end" font-size="24">5e5</text>
<text transform="translate(197.62 776.60) rotate(-45)" text-anchor="end" font-size="24">1e6</text>
<text transform="translate(249.73 776.60) rotate(-45)" text-anchor="end" font-size="24">2.5e6</text>
<text transform="translate(301.84 776.60) rotate(-45)" text-anchor="end" font-size="24">5e6</text>
<text transform="translate(353.96 776.60) rotate(-45)" text-anchor="end" font-size="24">1e7</text>
<text transform="translate(406.07 776.60) rotate(-45)" text-anchor="end" font-size="24">2.5e7</text>
<text transform="translate(458.18 776.60) rotate(-45)" text-anchor="end" font-size="24">5e7</text>
<text transform="translate(510.29 776.60) rotate(-45)" text-anchor="end" font-size="24">1e8</text>
<text transform="translate(562.40 776.60) rotate(-45)" text-anchor="end" font-size="24">2.5e8</text>
<text x="311.60" y="838.10" text-anchor="middle" font-size="24.5" textLength="99.8" lengthAdjust="spacingAndGlyphs">Mass [kg]</text>
<text transform="translate(21.00 606.85) rotate(-90)" text-anchor="middle" font-size="26" word-spacing="1.6">dSDF Coefficient [-]</text>
<text x="7.2" y="446.3" style='font-family:"Liberation Sans", sans-serif' font-size="26.8" fill="#000" stroke="#000" stroke-width="0.3">(b)</text>
<rect x="584.50" y="494.00" width="25.40" height="258.00" fill="url(#pgrad)" stroke="#202020" stroke-width="1.2"/>
<path d="M609.90 494.00h-2.8" stroke="#202020" stroke-width="1.1"/>
<text x="618.40" y="499.30" font-size="24" textLength="61.3" lengthAdjust="spacingAndGlyphs">0.1584</text>
<path d="M609.90 558.50h-2.8" stroke="#202020" stroke-width="1.1"/>
<text x="618.40" y="563.80" font-size="24" textLength="61.3" lengthAdjust="spacingAndGlyphs">0.1548</text>
<path d="M609.90 623.00h-2.8" stroke="#202020" stroke-width="1.1"/>
<text x="618.40" y="628.30" font-size="24" textLength="61.3" lengthAdjust="spacingAndGlyphs">0.1512</text>
<path d="M609.90 687.50h-2.8" stroke="#202020" stroke-width="1.1"/>
<text x="618.40" y="692.80" font-size="24" textLength="61.3" lengthAdjust="spacingAndGlyphs">0.1476</text>
<path d="M609.90 752.00h-2.8" stroke="#202020" stroke-width="1.1"/>
<text x="618.40" y="757.30" font-size="24" textLength="61.3" lengthAdjust="spacingAndGlyphs">0.1441</text>
<text x="594.00" y="446.60" text-anchor="middle" font-size="22" textLength="102.8" lengthAdjust="spacingAndGlyphs">Flux Error</text>
<text transform="translate(570.80 474.80) scale(0.8 1)" text-anchor="middle" font-size="27">[</text>
<text transform="translate(625.90 474.80) scale(0.8 1)" text-anchor="middle" font-size="27">]</text>
<text x="598.20" y="463.90" text-anchor="middle" font-size="15.5">W</text>
<path d="M576.20 467.60h44" stroke="#262626" stroke-width="0.9"/>
<text x="598.20" y="481.60" text-anchor="middle" font-size="16" textLength="43.5" lengthAdjust="spacingAndGlyphs">m<tspan font-size="10" dy="-5">2</tspan><tspan dy="5" font-size="16"> </tspan><tspan font-style="italic">μ</tspan>m</text>
</g>
</svg>
</body></html>
